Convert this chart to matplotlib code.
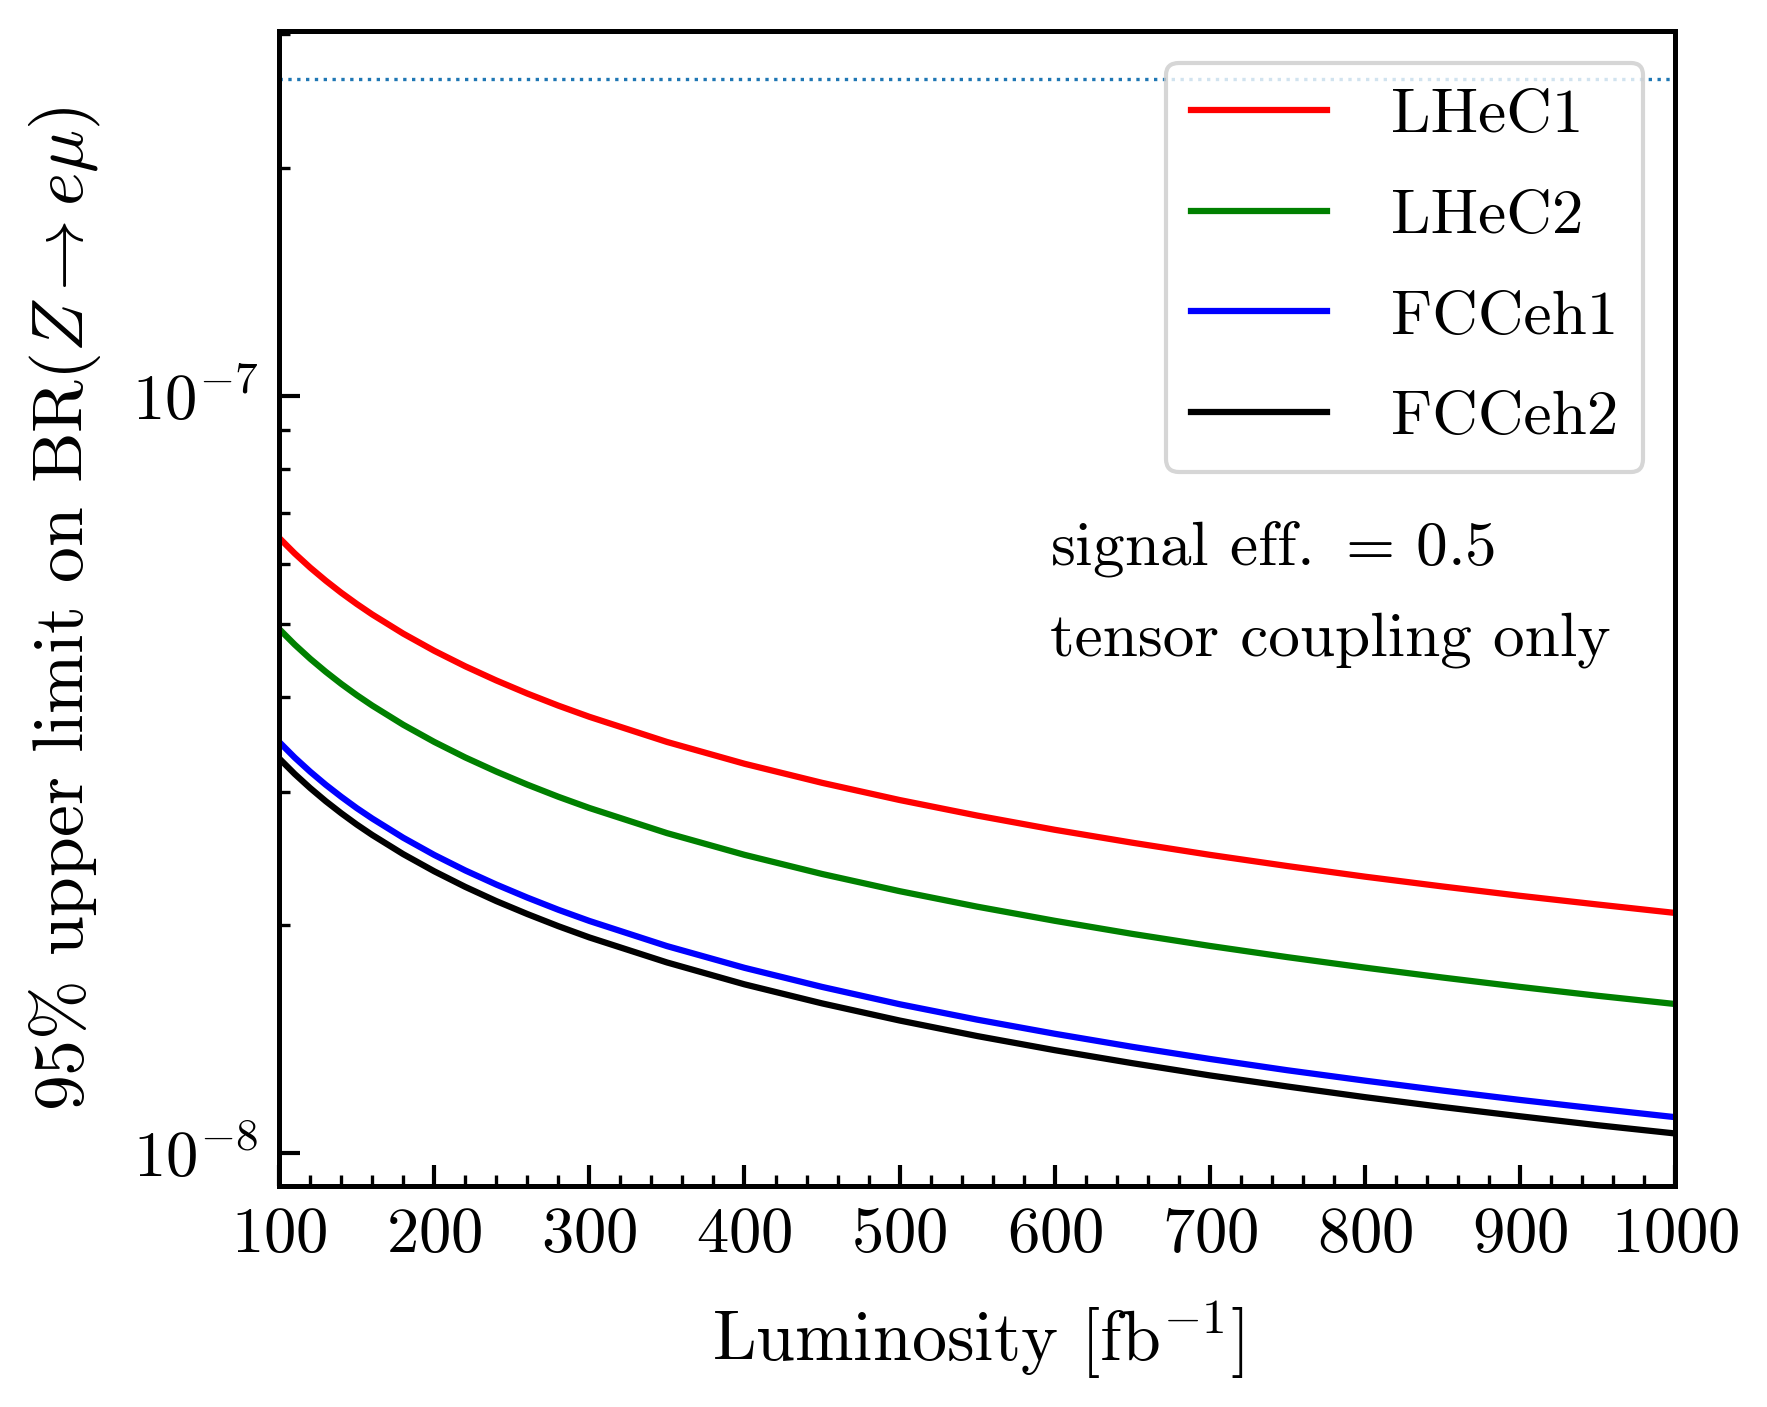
import matplotlib
matplotlib.use("Agg")
import matplotlib.pyplot as plt
from matplotlib.ticker import NullFormatter, MultipleLocator

plt.rcParams['font.family'] = 'serif'
plt.rcParams['font.serif'] = ['cmr10']
plt.rcParams['mathtext.fontset'] = 'cm'
plt.rcParams['axes.formatter.use_mathtext'] = True
plt.rcParams['axes.unicode_minus'] = False

# luminosity in fb^-1
lumi = [100, 110, 120, 130, 140, 150, 160, 180, 200, 220, 240, 260, 280, 300,
        350, 400, 450, 500, 550, 600, 650, 700, 750, 800, 850, 900, 950, 1000]

# 95% CL upper limits on BR(Z -> e mu) (units of 1e-8)
lhec1 = [6.490, 6.191, 5.930, 5.700, 5.494, 5.310, 5.143, 4.852, 4.605, 4.393,
         4.208, 4.044, 3.898, 3.768, 3.491, 3.267, 3.083, 2.926, 2.791, 2.673,
         2.570, 2.477, 2.394, 2.318, 2.250, 2.187, 2.130, 2.076]
lhec2 = [4.920, 4.693, 4.495, 4.321, 4.165, 4.025, 3.899, 3.678, 3.491, 3.330,
         3.190, 3.066, 2.955, 2.856, 2.646, 2.477, 2.337, 2.218, 2.116, 2.027,
         1.948, 1.878, 1.815, 1.758, 1.706, 1.658, 1.614, 1.574]
fcceh1 = [3.490, 3.329, 3.189, 3.065, 2.955, 2.855, 2.766, 2.609, 2.476, 2.362,
          2.263, 2.175, 2.096, 2.026, 1.877, 1.757, 1.658, 1.573, 1.501, 1.438,
          1.382, 1.332, 1.287, 1.247, 1.210, 1.176, 1.145, 1.116]
fcceh2 = [3.320, 3.167, 3.034, 2.916, 2.811, 2.716, 2.631, 2.482, 2.356, 2.247,
          2.152, 2.069, 1.994, 1.927, 1.786, 1.671, 1.577, 1.497, 1.428, 1.368,
          1.315, 1.267, 1.225, 1.186, 1.151, 1.119, 1.089, 1.062]

current_limit = 2.62e-7

series = [("LHeC1", lhec1, "red"),
          ("LHeC2", lhec2, "green"),
          ("FCCeh1", fcceh1, "blue"),
          ("FCCeh2", fcceh2, "black")]

fig = plt.figure(figsize=(5.89, 4.69), dpi=300)
ax = fig.add_axes([0.158, 0.157, 0.790, 0.821])

for name, vals, col in series:
    ax.plot(lumi, [v * 1e-8 for v in vals], color=col, lw=1.5, label=name)

ax.axhline(current_limit, color='tab:blue', ls=':', lw=0.8)

ax.set_yscale('log')
ax.set_xlim(100, 1000)
ax.set_ylim(9.05e-9, 3.03e-7)

ax.xaxis.set_major_locator(MultipleLocator(100))
ax.xaxis.set_minor_locator(MultipleLocator(20))
ax.yaxis.set_minor_formatter(NullFormatter())

for s in ax.spines.values():
    s.set_linewidth(1.2)
ax.tick_params(which='both', direction='in', labelsize=15.5, pad=5)
ax.tick_params(which='major', length=5, width=1.0)
ax.tick_params(which='minor', length=2.6, width=0.8)

ax.set_xlabel(r'Luminosity [fb$^{-1}$]', fontsize=16.8, labelpad=8)
ax.set_ylabel(r'95$\%$ upper limit on BR$(Z \to e\mu)$', fontsize=17.2, labelpad=7)

ax.text(0.552, 0.538, r'signal eff. $=\,0.5$', transform=ax.transAxes,
        fontsize=15.2, ha='left', va='baseline')
ax.text(0.552, 0.459, 'tensor coupling only', transform=ax.transAxes,
        fontsize=15.2, ha='left', va='baseline')

ax.legend(loc='upper right', fontsize=15.2, handlelength=2.15,
          handletextpad=1.0, labelspacing=0.7)

fig.savefig('out.png', dpi=300)
